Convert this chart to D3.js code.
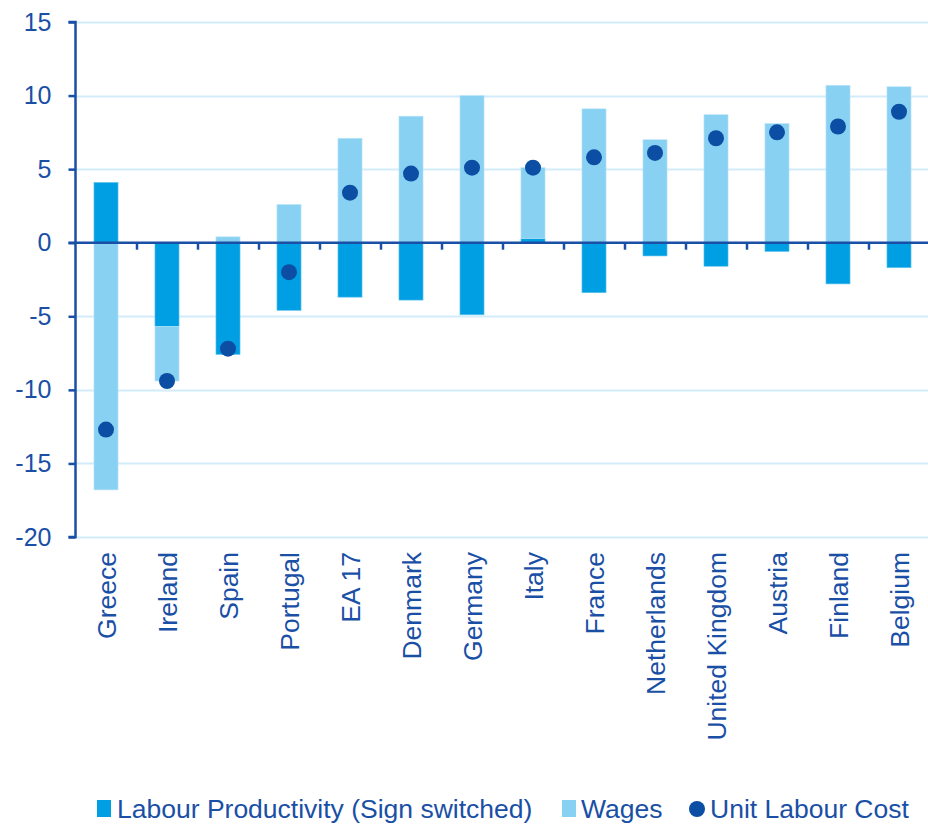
<!DOCTYPE html>
<html><head><meta charset="utf-8">
<script src="https://cdn.jsdelivr.net/npm/d3@7"></script>
<style>body{margin:0;background:#fff}svg{display:block;font-family:"Liberation Sans",Arial,sans-serif}</style>
</head><body><svg id="c" width="928" height="825"></svg>
<script>
const categories = ["Greece","Ireland","Spain","Portugal","EA 17","Denmark","Germany","Italy","France","Netherlands","United Kingdom","Austria","Finland","Belgium"];
const productivity = [4.1,-5.7,-7.6,-4.6,-3.7,-3.9,-4.9,0.3,-3.4,-0.9,-1.6,-0.6,-2.8,-1.7];
const wages = [-16.8,-3.7,0.4,2.6,7.1,8.6,10.0,4.8,9.1,7.0,8.7,8.1,10.7,10.6];
const ulc = [-12.7,-9.4,-7.2,-2.0,3.4,4.7,5.1,5.1,5.8,6.1,7.1,7.5,7.9,8.9];
const yTicks = [15,10,5,0,-5,-10,-15,-20];
const seriesNames = ["Labour Productivity (Sign switched)","Wages","Unit Labour Cost"];

const cProd="#009FE3", cWage="#89D1F3", cDot="#0B4EA3", cText="#1A4FA6", cAxis="#1A4FA6", cGrid="#D4ECF9";
const svg=d3.select("#c");
const L=75.5, R=929.5, T=22, B=537;
const x=d3.scaleBand().domain(categories).range([L,R]).paddingInner(0).paddingOuter(0);
const y=d3.scaleLinear().domain([-20,15]).range([B,T]);
const bw=x.bandwidth()*0.395;

// grid
svg.append("g").selectAll("line").data(yTicks.filter(d=>d!==0)).join("line")
  .attr("x1",L).attr("x2",R).attr("y1",d=>Math.round(y(d))+0.5).attr("y2",d=>Math.round(y(d))+0.5)
  .attr("stroke",cGrid).attr("stroke-width",2);

// stacked diverging
const rows=categories.map((c,i)=>({cat:c,prod:productivity[i],wage:wages[i]}));
const stack=d3.stack().keys(["prod","wage"]).offset(d3.stackOffsetDiverging)(rows);
const colors={prod:cProd,wage:cWage};
svg.append("g").selectAll("g").data(stack).join("g").attr("fill",d=>colors[d.key])
  .attr("stroke",d=>d.key==="wage"?"#bfe6f8":"#6cc6ee").attr("stroke-width",0.6)
  .selectAll("rect").data(d=>d).join("rect")
  .attr("x",d=>x(d.data.cat)+x.bandwidth()/2-bw/2).attr("width",bw)
  .attr("y",d=>y(Math.max(d[0],d[1]))).attr("height",d=>Math.abs(y(d[0])-y(d[1])));

// y axis
const yAxis=d3.axisLeft(y).tickValues(yTicks).tickSize(7).tickPadding(17).tickFormat(d=>String(d));
const gy=svg.append("g").attr("transform",`translate(${L},0)`).call(yAxis);
gy.select(".domain").attr("stroke",cAxis).attr("stroke-width",2.5).attr("d",`M-7,${T}H0V${B}H-7`);
gy.selectAll(".tick line").attr("stroke",cAxis).attr("stroke-width",2.5);
gy.selectAll(".tick text").attr("fill",cText).attr("font-size",25).attr("font-family","Liberation Sans, Arial, sans-serif");

// zero line with ticks between categories
const y0=y(0);
svg.append("line").attr("x1",L-7).attr("x2",R).attr("y1",y0).attr("y2",y0).attr("stroke",cAxis).attr("stroke-width",2.5);
svg.append("g").selectAll("line").data(categories.slice(1)).join("line")
  .attr("x1",d=>Math.round(x(d))).attr("x2",d=>Math.round(x(d))).attr("y1",y0).attr("y2",y0+7)
  .attr("stroke",cAxis).attr("stroke-width",2.5);

// dots
svg.append("g").selectAll("circle").data(ulc).join("circle")
  .attr("cx",(d,i)=>x(categories[i])+x.bandwidth()/2).attr("cy",d=>y(d)).attr("r",8).attr("fill",cDot);

// category labels
svg.append("g").selectAll("text").data(categories).join("text")
  .attr("transform",d=>`translate(${x(d)+x.bandwidth()/2+9.5},552) rotate(-90)`)
  .attr("text-anchor","end").attr("fill",cText).attr("font-size",26.5).text(d=>d);

// legend
const lg=svg.append("g").attr("font-size",26.5).attr("fill",cText);
const items=[{n:seriesNames[0],t:"sq",c:cProd,x:97,tx:117},{n:seriesNames[1],t:"sq",c:cWage,x:562,tx:581},{n:seriesNames[2],t:"dot",c:cDot,x:697,tx:710}];
items.forEach(it=>{
  if(it.t==="sq") lg.append("rect").attr("x",it.x).attr("y",800).attr("width",14).attr("height",17).attr("fill",it.c);
  else lg.append("circle").attr("cx",it.x).attr("cy",809).attr("r",8).attr("fill",it.c);
  lg.append("text").attr("x",it.tx).attr("y",818).text(it.n);
});
</script></body></html>
